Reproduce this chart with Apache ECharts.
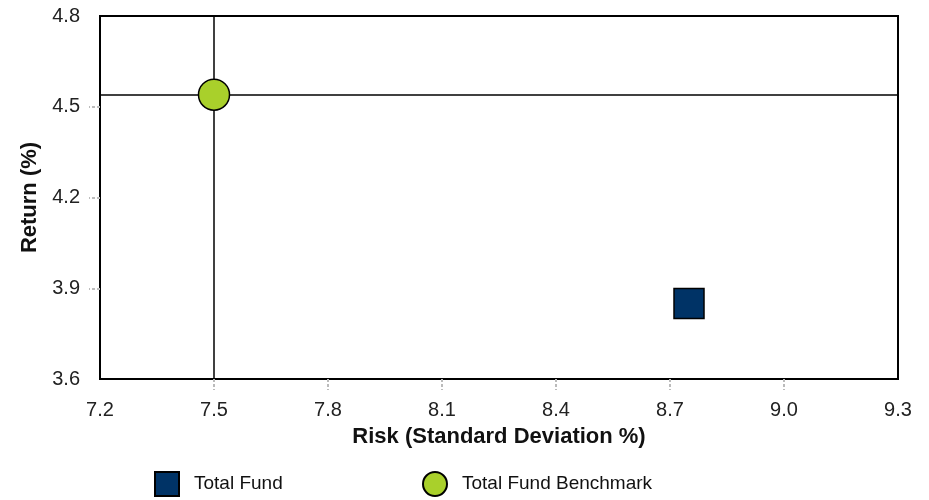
<!DOCTYPE html>
<html>
<head>
<meta charset="utf-8">
<script src="https://cdn.jsdelivr.net/npm/echarts@6/dist/echarts.min.js"></script>
<style>html,body{margin:0;padding:0;background:#fff}#c{width:929px;height:500px}</style>
</head>
<body>
<div id="c"></div>
<script>
var seriesNames = ["Total Fund", "Total Fund Benchmark"];
var riskValues = [8.75, 7.50];
var returnValues = [3.85, 4.54];
var xTicks = [7.2, 7.5, 7.8, 8.1, 8.4, 8.7, 9.0, 9.3];
var yTicks = [3.6, 3.9, 4.2, 4.5, 4.8];

var font = "Liberation Sans, Arial, sans-serif";
var chart = echarts.init(document.getElementById('c'), null, {renderer: 'canvas'});
var tickStyle = {color: '#bbb', width: 2, type: [3, 2]};
var option = {
  animation: false,
  backgroundColor: '#fff',
  grid: {left: 100, right: 31, top: 16, bottom: 121, show: true, borderColor: '#000', borderWidth: 2, backgroundColor: 'transparent'},
  xAxis: {
    type: 'value', min: xTicks[0], max: xTicks[xTicks.length - 1], interval: 0.3,
    name: 'Risk (Standard Deviation %)', nameLocation: 'middle', nameGap: 47,
    nameTextStyle: {fontFamily: font, fontWeight: 'bold', fontSize: 22, color: '#111'},
    axisLine: {show: true, lineStyle: {color: '#000', width: 2}},
    axisTick: {show: true, length: 11, lineStyle: tickStyle, customValues: xTicks.slice(1, xTicks.length - 1)},
    axisLabel: {fontFamily: font, fontSize: 20, color: '#222', margin: 21, formatter: function (v) { return v.toFixed(1); }},
    splitLine: {show: false}
  },
  yAxis: {
    type: 'value', min: yTicks[0], max: yTicks[yTicks.length - 1], interval: 0.3,
    name: 'Return (%)', nameLocation: 'middle', nameGap: 53,
    nameTextStyle: {fontFamily: font, fontWeight: 'bold', fontSize: 22, color: '#111'},
    axisLine: {show: true, lineStyle: {color: '#000', width: 2}},
    axisTick: {show: true, length: 11, lineStyle: tickStyle, customValues: yTicks.slice(1, yTicks.length - 1)},
    axisLabel: {fontFamily: font, fontSize: 20, color: '#222', margin: 20, formatter: function (v) { return v.toFixed(1); }},
    splitLine: {show: false}
  },
  legend: [
    {data: [seriesNames[0]], left: 149, top: 466, itemWidth: 24, itemHeight: 24, itemGap: 10,
     textStyle: {fontFamily: font, fontSize: 19, color: '#111', padding: [0, 0, 0, 10]}},
    {data: [seriesNames[1]], left: 417, top: 466, itemWidth: 24, itemHeight: 24, itemGap: 10,
     textStyle: {fontFamily: font, fontSize: 19, color: '#111', padding: [0, 0, 0, 10]}}
  ],
  series: [
    {
      name: 'crosshair', type: 'scatter', data: [], z: 1, silent: true,
      markLine: {
        silent: true, symbol: ['none', 'none'], label: {show: false},
        lineStyle: {color: '#000', width: 1.5, type: 'solid', opacity: 1},
        emphasis: {disabled: true},
        data: [{xAxis: riskValues[1]}, {yAxis: returnValues[1]}]
      }
    },
    {
      name: seriesNames[0], type: 'scatter', symbol: 'rect', symbolSize: 30, z: 5,
      itemStyle: {color: '#003366', borderColor: '#000', borderWidth: 1.5, opacity: 1},
      data: [[riskValues[0], returnValues[0]]]
    },
    {
      name: seriesNames[1], type: 'scatter', symbol: 'circle', symbolSize: 31, z: 5,
      itemStyle: {color: '#a9d02b', borderColor: '#000', borderWidth: 1.5, opacity: 1},
      data: [[riskValues[1], returnValues[1]]]
    }
  ]
};
chart.setOption(option);
</script>
</body>
</html>
